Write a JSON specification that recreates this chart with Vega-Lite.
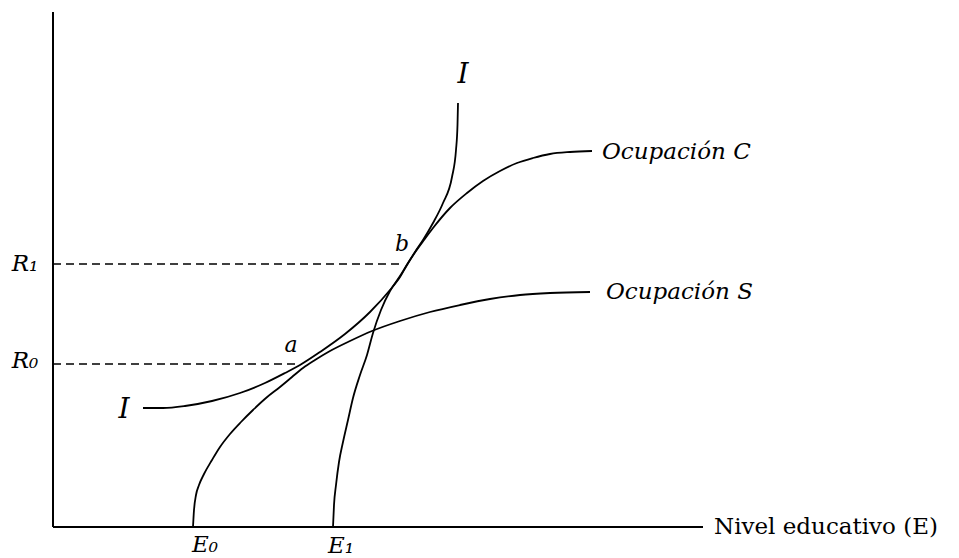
{
  "$schema": "https://vega.github.io/schema/vega-lite/v6.json",
  "width": 959,
  "height": 558,
  "padding": 0,
  "autosize": {"type": "none"},
  "background": "white",
  "config": {"view": {"stroke": null}},
  "datasets": {
    "curves": [
      {"curve": "S", "o": 1, "E": 140, "R": 0},
      {"curve": "S", "o": 2, "E": 141, "R": 17},
      {"curve": "S", "o": 3, "E": 143, "R": 32},
      {"curve": "S", "o": 4, "E": 146, "R": 42},
      {"curve": "S", "o": 5, "E": 151, "R": 53},
      {"curve": "S", "o": 6, "E": 159, "R": 67},
      {"curve": "S", "o": 7, "E": 167, "R": 80},
      {"curve": "S", "o": 8, "E": 177, "R": 93},
      {"curve": "S", "o": 9, "E": 188, "R": 105},
      {"curve": "S", "o": 10, "E": 200, "R": 117},
      {"curve": "S", "o": 11, "E": 213, "R": 129},
      {"curve": "S", "o": 12, "E": 227, "R": 140},
      {"curve": "S", "o": 13, "E": 239, "R": 150},
      {"curve": "S", "o": 14, "E": 250, "R": 159},
      {"curve": "S", "o": 15, "E": 262, "R": 167},
      {"curve": "S", "o": 16, "E": 277, "R": 176},
      {"curve": "S", "o": 17, "E": 297, "R": 186},
      {"curve": "S", "o": 18, "E": 319, "R": 196},
      {"curve": "S", "o": 19, "E": 347, "R": 206},
      {"curve": "S", "o": 20, "E": 377, "R": 215},
      {"curve": "S", "o": 21, "E": 407, "R": 222},
      {"curve": "S", "o": 22, "E": 437, "R": 228},
      {"curve": "S", "o": 23, "E": 467, "R": 232},
      {"curve": "S", "o": 24, "E": 497, "R": 234},
      {"curve": "S", "o": 25, "E": 537, "R": 235},
      {"curve": "I", "o": 1, "E": 90, "R": 119},
      {"curve": "I", "o": 2, "E": 110, "R": 119},
      {"curve": "I", "o": 3, "E": 132, "R": 121},
      {"curve": "I", "o": 4, "E": 159, "R": 126},
      {"curve": "I", "o": 5, "E": 187, "R": 134},
      {"curve": "I", "o": 6, "E": 212, "R": 144},
      {"curve": "I", "o": 7, "E": 232, "R": 154},
      {"curve": "I", "o": 8, "E": 247, "R": 162},
      {"curve": "I", "o": 9, "E": 267, "R": 175},
      {"curve": "I", "o": 10, "E": 292, "R": 193},
      {"curve": "I", "o": 11, "E": 317, "R": 215},
      {"curve": "I", "o": 12, "E": 337, "R": 237},
      {"curve": "I", "o": 13, "E": 347, "R": 250},
      {"curve": "I", "o": 14, "E": 354, "R": 262},
      {"curve": "I", "o": 15, "E": 362, "R": 275},
      {"curve": "I", "o": 16, "E": 370, "R": 287},
      {"curve": "I", "o": 17, "E": 380, "R": 304},
      {"curve": "I", "o": 18, "E": 390, "R": 324},
      {"curve": "I", "o": 19, "E": 399, "R": 350},
      {"curve": "I", "o": 20, "E": 403, "R": 377},
      {"curve": "I", "o": 21, "E": 404.5, "R": 402},
      {"curve": "I", "o": 22, "E": 405, "R": 424},
      {"curve": "C", "o": 1, "E": 280, "R": 0},
      {"curve": "C", "o": 2, "E": 281, "R": 22},
      {"curve": "C", "o": 3, "E": 283, "R": 42},
      {"curve": "C", "o": 4, "E": 286, "R": 65},
      {"curve": "C", "o": 5, "E": 290, "R": 85},
      {"curve": "C", "o": 6, "E": 295, "R": 107},
      {"curve": "C", "o": 7, "E": 300, "R": 129},
      {"curve": "C", "o": 8, "E": 307, "R": 152},
      {"curve": "C", "o": 9, "E": 314, "R": 172},
      {"curve": "C", "o": 10, "E": 320, "R": 194},
      {"curve": "C", "o": 11, "E": 328, "R": 217},
      {"curve": "C", "o": 12, "E": 337, "R": 236},
      {"curve": "C", "o": 13, "E": 347, "R": 251},
      {"curve": "C", "o": 14, "E": 355, "R": 264},
      {"curve": "C", "o": 15, "E": 363, "R": 276},
      {"curve": "C", "o": 16, "E": 371, "R": 287},
      {"curve": "C", "o": 17, "E": 380, "R": 299},
      {"curve": "C", "o": 18, "E": 397, "R": 319},
      {"curve": "C", "o": 19, "E": 414, "R": 334},
      {"curve": "C", "o": 20, "E": 430, "R": 346},
      {"curve": "C", "o": 21, "E": 447, "R": 356},
      {"curve": "C", "o": 22, "E": 464, "R": 364},
      {"curve": "C", "o": 23, "E": 480, "R": 369},
      {"curve": "C", "o": 24, "E": 497, "R": 373},
      {"curve": "C", "o": 25, "E": 517, "R": 375},
      {"curve": "C", "o": 26, "E": 539, "R": 376}
    ],
    "axes": [
      {"E": 0, "E2": 0, "R": 0, "R2": 515},
      {"E": 0, "E2": 650, "R": 0, "R2": 0}
    ],
    "dashes": [
      {"E": 0, "E2": 349, "R": 263, "R2": 263},
      {"E": 0, "E2": 245, "R": 163, "R2": 163}
    ],
    "bigLabels": [
      {"label": "I", "E": 71, "R": 117},
      {"label": "I", "E": 410, "R": 452}
    ],
    "smallLabels": [
      {"label": "a", "E": 238, "R": 182},
      {"label": "b", "E": 349, "R": 283}
    ],
    "italicLabels": [
      {"label": "R₁", "E": -28, "R": 263},
      {"label": "R₀", "E": -28, "R": 166},
      {"label": "E₀", "E": 152, "R": -18},
      {"label": "E₁", "E": 288, "R": -19}
    ],
    "curveLabels": [
      {"label": "Ocupación C", "E": 549, "R": 375},
      {"label": "Ocupación S", "E": 553, "R": 235}
    ],
    "axisLabel": [
      {"label": "Nivel educativo (E)", "E": 661, "R": 0}
    ]
  },
  "encoding": {
    "x": {"field": "E", "type": "quantitative", "scale": {"domain": [-53, 906]}, "axis": null},
    "y": {"field": "R", "type": "quantitative", "scale": {"domain": [-31, 527]}, "axis": null}
  },
  "layer": [
    {
      "data": {"name": "axes"},
      "mark": {"type": "rule", "color": "black", "strokeWidth": 2},
      "encoding": {"x2": {"field": "E2"}, "y2": {"field": "R2"}}
    },
    {
      "data": {"name": "dashes"},
      "mark": {"type": "rule", "color": "black", "strokeWidth": 1.5, "strokeDash": [8, 5]},
      "encoding": {"x2": {"field": "E2"}, "y2": {"field": "R2"}}
    },
    {
      "data": {"name": "curves"},
      "mark": {"type": "line", "color": "black", "strokeWidth": 1.8, "interpolate": "monotone"},
      "encoding": {
        "detail": {"field": "curve"},
        "order": {"field": "o", "type": "quantitative"}
      }
    },
    {
      "data": {"name": "bigLabels"},
      "mark": {"type": "text", "font": "DejaVu Serif", "fontStyle": "italic", "fontSize": 28, "align": "center", "baseline": "middle", "color": "black"},
      "encoding": {"text": {"field": "label"}}
    },
    {
      "data": {"name": "smallLabels"},
      "mark": {"type": "text", "font": "DejaVu Serif", "fontStyle": "italic", "fontSize": 22, "align": "center", "baseline": "middle", "color": "black"},
      "encoding": {"text": {"field": "label"}}
    },
    {
      "data": {"name": "italicLabels"},
      "mark": {"type": "text", "font": "DejaVu Serif", "fontStyle": "italic", "fontSize": 23, "align": "center", "baseline": "middle", "color": "black"},
      "encoding": {"text": {"field": "label"}}
    },
    {
      "data": {"name": "curveLabels"},
      "mark": {"type": "text", "font": "DejaVu Serif", "fontStyle": "italic", "fontSize": 23, "align": "left", "baseline": "middle", "color": "black"},
      "encoding": {"text": {"field": "label"}}
    },
    {
      "data": {"name": "axisLabel"},
      "mark": {"type": "text", "font": "DejaVu Serif", "fontSize": 23, "align": "left", "baseline": "middle", "color": "black"},
      "encoding": {"text": {"field": "label"}}
    }
  ]
}
